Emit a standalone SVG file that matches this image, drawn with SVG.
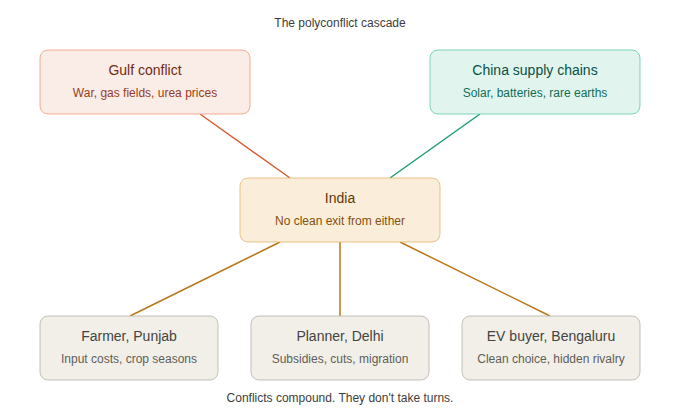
<svg xmlns="http://www.w3.org/2000/svg" width="680" height="420" viewBox="0 0 680 420">
<style>
text{font-family:"Liberation Sans",Arial,Helvetica,sans-serif;text-anchor:middle}
.h{font-size:14px}
.s{font-size:12px}
.cap{font-size:12px;fill:#3d3d3a}
.coral rect{fill:#FAECE7;stroke:#F0997B;stroke-width:0.8}
.coral .h{fill:#712B13}.coral .s{fill:#993C1D}
.teal rect{fill:#E1F5EE;stroke:#5DCAA5;stroke-width:0.8}
.teal .h{fill:#085041}.teal .s{fill:#0F6E56}
.amber rect{fill:#FAEEDA;stroke:#E5B46A;stroke-width:0.8}
.amber .h{fill:#633806}.amber .s{fill:#854F0B}
.gray rect{fill:#F1EFE8;stroke:#B4B2A9;stroke-width:0.8}
.gray .h{fill:#444441}.gray .s{fill:#5F5E5A}
.c{fill:none;stroke-width:1.5}
</style>
<rect width="680" height="420" fill="#ffffff"/>
<text class="cap" x="340" y="27">The polyconflict cascade</text>
<g id="connectors">
<line class="c" x1="200" y1="114" x2="290" y2="178" stroke="#D85A30"/>
<line class="c" x1="480" y1="114" x2="390" y2="178" stroke="#1D9E75"/>
<line class="c" x1="280" y1="242" x2="130" y2="316" stroke="#BA7517"/>
<line class="c" x1="340" y1="242" x2="340" y2="316" stroke="#BA7517"/>
<line class="c" x1="400" y1="242" x2="550" y2="316" stroke="#BA7517"/>
</g>
<g id="gulf" class="coral">
<rect x="40" y="50" width="210" height="64" rx="8"/>
<text class="h" x="145" y="75">Gulf conflict</text>
<text class="s" x="145" y="97">War, gas fields, urea prices</text>
</g>
<g id="china" class="teal">
<rect x="430" y="50" width="210" height="64" rx="8"/>
<text class="h" x="535" y="75">China supply chains</text>
<text class="s" x="535" y="97">Solar, batteries, rare earths</text>
</g>
<g id="india" class="amber">
<rect x="240" y="178" width="200" height="64" rx="8"/>
<text class="h" x="340" y="203">India</text>
<text class="s" x="340" y="225">No clean exit from either</text>
</g>
<g id="farmer" class="gray">
<rect x="40" y="316" width="178" height="64" rx="8"/>
<text class="h" x="129" y="341">Farmer, Punjab</text>
<text class="s" x="129" y="363">Input costs, crop seasons</text>
</g>
<g id="planner" class="gray">
<rect x="251" y="316" width="178" height="64" rx="8"/>
<text class="h" x="340" y="341">Planner, Delhi</text>
<text class="s" x="340" y="363">Subsidies, cuts, migration</text>
</g>
<g id="ev" class="gray">
<rect x="462" y="316" width="178" height="64" rx="8"/>
<text class="h" x="551" y="341">EV buyer, Bengaluru</text>
<text class="s" x="551" y="363">Clean choice, hidden rivalry</text>
</g>
<text class="cap" x="340" y="402">Conflicts compound. They don't take turns.</text>
</svg>
